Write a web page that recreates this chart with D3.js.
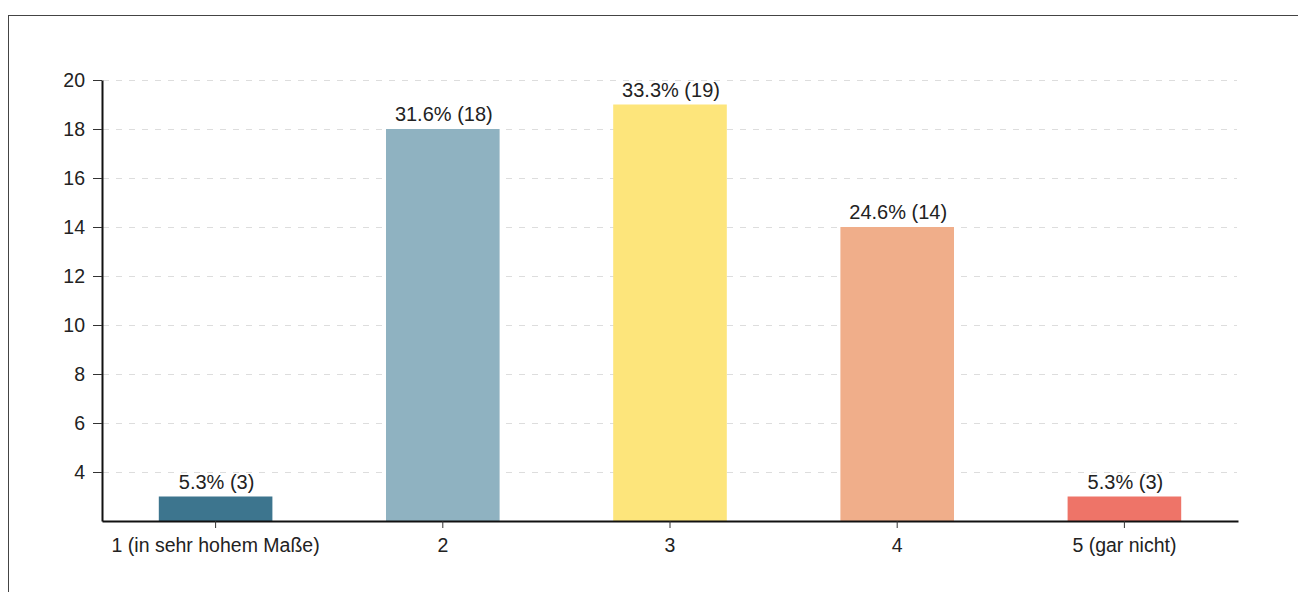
<!DOCTYPE html>
<html><head><meta charset="utf-8">
<script src="https://cdn.jsdelivr.net/npm/d3@7"></script>
<style>
body{margin:0;background:#fff;}
svg text{font-family:"Liberation Sans",Arial,sans-serif;fill:#222;}
</style></head>
<body>
<svg id="c" width="1298" height="592"></svg>
<script>
const categories = ["1 (in sehr hohem Maße)", "2", "3", "4", "5 (gar nicht)"];
const counts = [3, 18, 19, 14, 3];
const percents = ["5.3%", "31.6%", "33.3%", "24.6%", "5.3%"];
const colors = ["#3d758e", "#8fb2c1", "#fde57b", "#f0ae8a", "#ee7468"];
const yTicks = [4, 6, 8, 10, 12, 14, 16, 18, 20];

const svg = d3.select("#c");
svg.append("rect").attr("x", 8.5).attr("y", 15.5).attr("width", 1400).attr("height", 700)
  .attr("fill", "none").attr("stroke", "#444").attr("stroke-width", 1);

const x = d3.scaleBand().domain(categories).range([102, 1238]).paddingInner(0.5).paddingOuter(0.25);
const y = d3.scaleLinear().domain([2, 20]).range([521, 80]);

// grid
svg.append("g").selectAll("line").data(yTicks).join("line")
  .attr("x1", 103).attr("x2", 1237)
  .attr("y1", d => Math.round(y(d)) + 0.5).attr("y2", d => Math.round(y(d)) + 0.5)
  .attr("stroke", "#ddd").attr("stroke-dasharray", "6,7");

// bars
svg.append("g").selectAll("rect").data(categories).join("rect")
  .attr("x", d => x(d)).attr("width", x.bandwidth())
  .attr("y", (d, i) => y(counts[i])).attr("height", (d, i) => y(2) - y(counts[i]))
  .attr("fill", (d, i) => colors[i]);

// value labels
svg.append("g").selectAll("text").data(categories).join("text")
  .attr("x", d => x(d) + x.bandwidth() / 2 + 1)
  .attr("y", (d, i) => y(counts[i]) - 8)
  .attr("text-anchor", "middle").attr("font-size", 20)
  .text((d, i) => `${percents[i]} (${counts[i]})`);

// y axis
const ya = svg.append("g").attr("transform", "translate(102,0)")
  .call(d3.axisLeft(y).tickValues(yTicks).tickSize(9).tickPadding(8).tickSizeOuter(0));
ya.select(".domain").attr("stroke", "#111").attr("stroke-width", 2);
ya.selectAll(".tick line").attr("stroke", "#333");
ya.selectAll(".tick text").attr("font-size", 19.5).attr("fill", "#222").attr("font-family", "Liberation Sans, Arial, sans-serif");

// x axis
const xa = svg.append("g").attr("transform", "translate(0,521)")
  .call(d3.axisBottom(x).tickSize(7).tickPadding(10).tickSizeOuter(0));
xa.select(".domain").attr("stroke", "#111").attr("stroke-width", 2);
xa.selectAll(".tick line").attr("stroke", "#333");
xa.selectAll(".tick text").attr("font-size", 19.5).attr("fill", "#222").attr("font-family", "Liberation Sans, Arial, sans-serif");
</script>
</body></html>
